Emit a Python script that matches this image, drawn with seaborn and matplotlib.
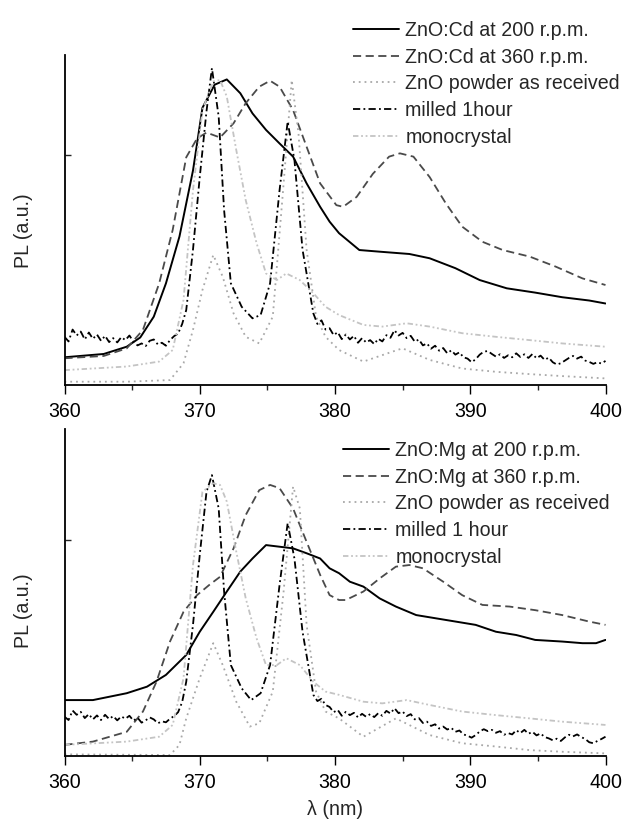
import numpy as np
import pandas as pd
import matplotlib
matplotlib.use("Agg")
import matplotlib.pyplot as plt
import seaborn as sns

# ---------------- data (top panel: ZnO:Cd) ----------------
cd200_x = [360.0, 362.9, 364.6, 365.6, 366.6, 367.5, 368.5, 369.5, 370.2, 371.1, 372.0, 373.0, 373.9,
           374.9, 375.9, 376.9, 377.9, 378.9, 379.6, 380.3, 381.8, 383.3, 385.5, 387.0, 388.9, 390.7,
           392.7, 394.8, 396.8, 398.8, 400.0]
cd200_y = [8.4, 9.4, 11.6, 14.4, 20.7, 30.8, 45.0, 65.0, 84.0, 91.0, 92.6, 88.4, 82.3,
           77.3, 73.2, 69.2, 61.1, 54.0, 49.5, 46.0, 40.9, 40.4, 39.7, 38.4, 35.4, 31.8,
           29.3, 28.0, 26.6, 25.6, 24.7]

cd360_x = [360.0, 362.9, 364.6, 365.8, 367.0, 368.0, 369.0, 369.8, 370.5, 371.5, 372.5, 373.4, 374.4,
           375.2, 375.9, 376.9, 377.9, 378.9, 380.1, 380.6, 381.6, 382.8, 384.0, 384.8, 385.8, 387.0,
           388.2, 389.4, 390.9, 392.4, 394.4, 396.3, 398.3, 400.0]
cd360_y = [8.1, 8.8, 11.1, 16.7, 30.8, 47.0, 69.0, 74.7, 76.5, 75.0, 79.3, 85.4, 90.4,
           92.2, 90.4, 83.3, 72.2, 61.1, 54.5, 54.0, 57.0, 64.0, 69.2, 70.2, 69.2, 63.0,
           55.0, 48.0, 43.4, 40.9, 38.9, 35.9, 32.3, 30.3]

top_powder_x = [360.0, 364.6, 367.8, 368.8, 369.5, 370.2, 371.0, 371.7, 372.5, 373.4, 374.4, 375.4,
                376.2, 376.8, 377.3, 377.9, 378.6, 379.3, 380.3, 382.1, 384.6, 385.0, 387.0, 389.4,
                391.9, 394.4, 396.8, 400.0]
top_powder_y = [1.0, 1.0, 1.5, 6.6, 16.7, 28.8, 39.4, 32.8, 21.7, 14.6, 12.6, 20.7,
                61.0, 92.4, 76.3, 41.0, 20.7, 14.6, 10.6, 7.1, 10.6, 11.1, 7.6, 5.0,
                4.0, 3.3, 2.7, 2.0]

top_milled_x = [360.0, 360.3, 360.6, 360.9, 361.2, 361.5, 361.8, 362.1, 362.4, 362.7, 363.0, 363.3,
                363.6, 363.9, 364.2, 364.5, 364.8, 365.1, 365.4, 365.7, 366.0, 366.3, 366.6, 366.9,
                367.2, 367.5, 367.8, 368.1, 368.4, 368.7, 369.0, 369.5, 370.0, 370.5, 370.9, 371.4,
                371.8, 372.3, 373.1, 373.9, 374.5, 375.2, 375.9, 376.5, 377.0, 377.6, 378.4, 378.7,
                379.0, 379.3, 379.6, 379.9, 380.2, 380.5, 380.8, 381.1, 381.4, 381.7, 382.0, 382.3,
                382.6, 382.9, 383.2, 383.5, 383.8, 384.1, 384.4, 384.7, 385.0, 385.3, 385.6, 385.9,
                386.2, 386.5, 386.8, 387.1, 387.4, 387.7, 388.0, 388.3, 388.6, 388.9, 389.2, 389.5,
                389.8, 390.1, 390.4, 390.7, 391.0, 391.3, 391.6, 391.9, 392.2, 392.5, 392.8, 393.1,
                393.4, 393.7, 394.0, 394.3, 394.6, 394.9, 395.2, 395.5, 395.8, 396.1, 396.4, 396.7,
                397.0, 397.3, 397.6, 397.9, 398.2, 398.5, 398.8, 399.1, 399.4, 399.7, 400.0]
top_milled_y = [14.6, 13.2, 16.8, 15.0, 16.2, 13.8, 15.9, 14.0, 15.3, 13.4, 14.9, 13.0,
                14.2, 12.9, 14.5, 13.6, 15.0, 13.1, 12.0, 12.6, 11.8, 13.4, 13.8, 12.3,
                12.8, 11.9, 13.6, 14.8, 15.6, 18.5, 22.7, 41.0, 63.0, 83.0, 96.0, 81.3,
                53.0, 30.8, 23.7, 20.2, 21.2, 30.8, 59.0, 79.8, 68.2, 41.0, 21.7, 18.5,
                19.6, 16.8, 17.2, 15.1, 16.0, 13.9, 15.3, 13.8, 14.9, 12.8, 14.2, 12.9,
                13.6, 12.4, 14.0, 13.2, 15.1, 14.3, 16.6, 15.0, 15.8, 14.2, 14.9, 13.1,
                13.8, 12.0, 12.6, 11.0, 11.9, 10.4, 11.2, 9.6, 10.5, 9.2, 9.9, 8.4,
                8.0, 6.9, 7.8, 9.2, 10.1, 10.3, 9.4, 8.6, 9.3, 8.2, 9.0, 8.4,
                9.6, 8.5, 9.3, 8.2, 9.4, 8.1, 8.9, 7.6, 8.3, 6.9, 6.2, 6.6,
                7.4, 8.2, 8.8, 8.0, 8.6, 7.4, 7.0, 6.4, 6.9, 6.5, 7.3]

top_mono_x = [360.0, 364.6, 367.0, 368.0, 368.8, 369.5, 370.2, 371.0, 371.5, 372.0, 372.7, 373.4,
              374.2, 374.9, 375.7, 376.4, 377.4, 378.4, 379.3, 380.3, 382.1, 383.5, 385.3, 387.0,
              389.4, 391.9, 394.4, 396.8, 400.0]
top_mono_y = [4.5, 5.6, 7.1, 10.6, 25.8, 59.0, 83.3, 92.0, 92.4, 87.4, 71.2, 56.0,
              43.0, 33.8, 31.8, 33.8, 31.8, 27.8, 23.7, 21.2, 18.2, 17.7, 18.7, 17.7,
              15.7, 14.6, 13.6, 12.6, 11.6]

# ---------------- data (bottom panel: ZnO:Mg) ----------------
mg200_x = [360.0, 362.1, 364.6, 366.1, 367.5, 369.0, 370.0, 371.0, 372.0, 373.0, 373.9, 374.9,
           375.9, 376.9, 377.9, 378.9, 379.6, 380.3, 381.1, 382.1, 383.3, 384.5, 386.0, 388.2,
           390.4, 391.9, 393.4, 394.8, 396.8, 398.3, 399.3, 400.0]
mg200_y = [17.1, 17.1, 19.2, 21.2, 24.8, 30.9, 38.0, 44.1, 50.3, 56.4, 60.4, 64.5,
           64.0, 63.5, 62.0, 60.4, 57.4, 55.9, 53.3, 51.8, 48.2, 45.7, 43.1, 41.6,
           40.1, 38.0, 37.0, 35.5, 35.0, 34.5, 34.5, 35.5]

mg360_x = [360.0, 362.1, 364.6, 365.8, 366.8, 367.8, 368.8, 369.8, 370.7, 371.5, 372.5, 373.4,
           374.4, 375.2, 375.9, 376.9, 377.9, 378.9, 379.6, 380.3, 380.8, 382.1, 383.3, 384.5,
           385.5, 386.5, 388.0, 389.4, 390.9, 392.9, 394.8, 396.8, 398.8, 400.0]
mg360_y = [3.4, 4.4, 7.4, 13.6, 22.7, 35.0, 44.1, 49.2, 52.3, 54.8, 63.5, 73.7,
           81.3, 82.9, 81.9, 75.7, 65.5, 55.4, 49.2, 47.7, 47.7, 50.3, 54.3, 57.9,
           58.4, 57.4, 53.3, 49.2, 46.2, 45.7, 44.6, 43.1, 41.1, 40.1]

bot_powder_x = [360.0, 367.8, 368.5, 369.0, 370.0, 371.0, 371.7, 372.7, 373.7, 374.4, 375.4, 376.2,
                376.9, 377.4, 377.9, 378.6, 379.3, 380.3, 382.1, 384.5, 387.0, 389.4, 391.9, 394.4,
                396.8, 400.0]
bot_powder_y = [0.5, 0.3, 3.4, 11.5, 23.8, 34.5, 27.8, 16.6, 9.0, 10.0, 19.7, 50.3,
                82.4, 75.7, 40.1, 19.7, 13.6, 11.5, 5.9, 11.5, 6.4, 3.9, 2.9, 1.8,
                1.3, 0.8]

bot_milled_x = [360.0, 360.3, 360.6, 360.9, 361.2, 361.5, 361.8, 362.1, 362.4, 362.7, 363.0, 363.3,
                363.6, 363.9, 364.2, 364.5, 364.8, 365.1, 365.4, 365.7, 366.0, 366.3, 366.6, 366.9,
                367.2, 367.5, 367.8, 368.1, 368.4, 368.7, 369.0, 369.5, 370.0, 370.5, 370.9, 371.4,
                371.8, 372.3, 373.1, 373.8, 374.5, 375.2, 375.9, 376.5, 377.0, 377.6, 378.4, 378.7,
                379.0, 379.3, 379.6, 379.9, 380.2, 380.5, 380.8, 381.1, 381.4, 381.7, 382.0, 382.3,
                382.6, 382.9, 383.2, 383.5, 383.8, 384.1, 384.4, 384.7, 385.0, 385.3, 385.6, 385.9,
                386.2, 386.5, 386.8, 387.1, 387.4, 387.7, 388.0, 388.3, 388.6, 388.9, 389.2, 389.5,
                389.8, 390.1, 390.4, 390.7, 391.0, 391.3, 391.6, 391.9, 392.2, 392.5, 392.8, 393.1,
                393.4, 393.7, 394.0, 394.3, 394.6, 394.9, 395.2, 395.5, 395.8, 396.1, 396.4, 396.7,
                397.0, 397.3, 397.6, 397.9, 398.2, 398.5, 398.8, 399.1, 399.4, 399.7, 400.0]
bot_milled_y = [12.0, 11.0, 13.9, 12.6, 13.5, 11.6, 12.8, 11.2, 12.4, 11.0, 12.6, 11.3,
                12.2, 10.9, 12.1, 11.4, 12.3, 10.8, 11.7, 10.2, 10.9, 11.8, 11.2, 10.0,
                10.6, 10.3, 11.4, 12.2, 13.4, 16.5, 22.7, 40.1, 61.5, 80.8, 85.9, 75.7,
                50.3, 27.8, 20.7, 17.1, 19.2, 27.8, 52.3, 71.2, 60.4, 38.0, 18.7, 16.8,
                17.5, 15.6, 15.0, 13.4, 14.1, 12.3, 13.5, 12.5, 13.2, 11.8, 12.9, 12.0,
                12.8, 11.9, 13.1, 12.3, 13.8, 13.0, 14.6, 13.1, 13.6, 12.2, 12.8, 11.2,
                11.6, 10.1, 10.5, 9.2, 9.7, 8.4, 9.0, 8.1, 8.6, 7.4, 7.8, 6.6,
                6.2, 5.6, 6.4, 7.5, 8.2, 7.6, 8.0, 7.1, 7.6, 6.5, 7.0, 6.6,
                7.9, 7.0, 8.0, 6.8, 7.4, 6.3, 6.9, 5.8, 5.4, 4.8, 5.3, 4.6,
                5.7, 6.5, 6.0, 6.6, 5.8, 5.2, 4.2, 3.9, 4.6, 5.2, 5.9]

bot_mono_x = [360.0, 364.6, 367.0, 368.0, 368.8, 369.5, 370.2, 371.0, 371.5, 372.0, 372.7, 373.4,
              374.2, 374.9, 375.7, 376.4, 377.4, 378.4, 379.3, 380.3, 382.1, 383.5, 385.3, 387.0,
              389.4, 391.9, 394.4, 396.8, 400.0]
bot_mono_y = [3.4, 4.4, 5.9, 9.5, 23.8, 58.4, 80.8, 83.4, 82.9, 77.8, 62.5, 48.2,
              36.0, 27.8, 27.8, 29.9, 27.8, 22.7, 19.7, 18.7, 16.6, 16.1, 17.1, 15.6,
              13.6, 12.5, 11.5, 10.5, 9.5]

top_labels = ["ZnO:Cd at 200 r.p.m.", "ZnO:Cd at 360 r.p.m.", "ZnO powder as received",
              "milled 1hour", "monocrystal"]
bot_labels = ["ZnO:Mg at 200 r.p.m.", "ZnO:Mg at 360 r.p.m.", "ZnO powder as received",
              "milled 1 hour", "monocrystal"]
x_ticks = [360, 370, 380, 390, 400]
x_minor = [365, 375, 385, 395]

# ---------------- styling ----------------
sns.set_style("ticks")
plt.rcParams["font.family"] = ["Liberation Sans", "DejaVu Sans"]
FS = 14.1

styles = [
    dict(color="black", linestyle="-", linewidth=1.4),
    dict(color="#4a4a4a", linestyle=(0, (4.5, 2.5)), linewidth=1.3),
    dict(color="#a8a8a8", linestyle=(0, (1, 2.2)), linewidth=1.3),
    dict(color="black", linestyle=(0, (4, 1.8, 1, 1.8)), linewidth=1.3),
    dict(color="#c4c4c4", linestyle=(0, (3, 1.5, 1, 1.5, 1, 1.5)), linewidth=1.3),
]

fig = plt.figure(figsize=(6.23, 8.31), dpi=100)
L, R = 64.5 / 623, 605.5 / 623
ax1 = fig.add_axes([L, 1 - 385 / 831, R - L, 330 / 831])
ax2 = fig.add_axes([L, 1 - 756 / 831, R - L, 327 / 831])

panels = [
    (ax1, [(cd200_x, cd200_y), (cd360_x, cd360_y), (top_powder_x, top_powder_y),
           (top_milled_x, top_milled_y), (top_mono_x, top_mono_y)], top_labels, 69.7,
     (353 / 623, 1 - 21 / 831), 0.467),
    (ax2, [(mg200_x, mg200_y), (mg360_x, mg360_y), (bot_powder_x, bot_powder_y),
           (bot_milled_x, bot_milled_y), (bot_mono_x, bot_mono_y)], bot_labels, 66.0,
     (343 / 623, 1 - 441 / 831), 0.443),
]

for ax, series, labels, ytick, anchor, ylab_y in panels:
    for (xs, ys), lab, st in zip(series, labels, styles):
        df = pd.DataFrame({"wl": xs, "pl": ys})
        sns.lineplot(data=df, x="wl", y="pl", ax=ax, label=lab, sort=False,
                     estimator=None, **st)
    ax.set_xlim(360, 400)
    ax.set_ylim(0, 100)
    ax.set_xticks(x_ticks)
    ax.set_xticks(x_minor, minor=True)
    ax.set_xticklabels([str(t) for t in x_ticks], fontsize=FS)
    ax.set_yticks([ytick])
    ax.set_yticklabels([""])
    ax.tick_params(axis="x", which="major", direction="out", length=6.5, width=1.0,
                   pad=5.5, colors="black")
    ax.tick_params(axis="x", which="minor", direction="out", length=3.6, width=1.0)
    ax.tick_params(axis="y", which="major", direction="in", length=4.0, width=1.0)
    for s in ["top", "right"]:
        ax.spines[s].set_visible(False)
    for s in ["left", "bottom"]:
        ax.spines[s].set_linewidth(1.3)
        ax.spines[s].set_color("black")
    ax.set_xlabel("")
    ax.set_ylabel("PL (a.u.)", fontsize=FS)
    ax.yaxis.set_label_coords(-0.058, ylab_y)
    handles, labs = ax.get_legend_handles_labels()
    ax.get_legend().remove()
    fig.legend(handles, labs, loc="upper left", bbox_to_anchor=anchor,
               bbox_transform=fig.transFigure, frameon=False, fontsize=FS,
               handlelength=2.35, handletextpad=0.33, labelspacing=0.39,
               borderpad=0, borderaxespad=0)

ax2.set_xlabel("λ (nm)", fontsize=FS)
ax2.xaxis.set_label_coords(0.5, -0.134)

fig.savefig("out.png", dpi=100)
